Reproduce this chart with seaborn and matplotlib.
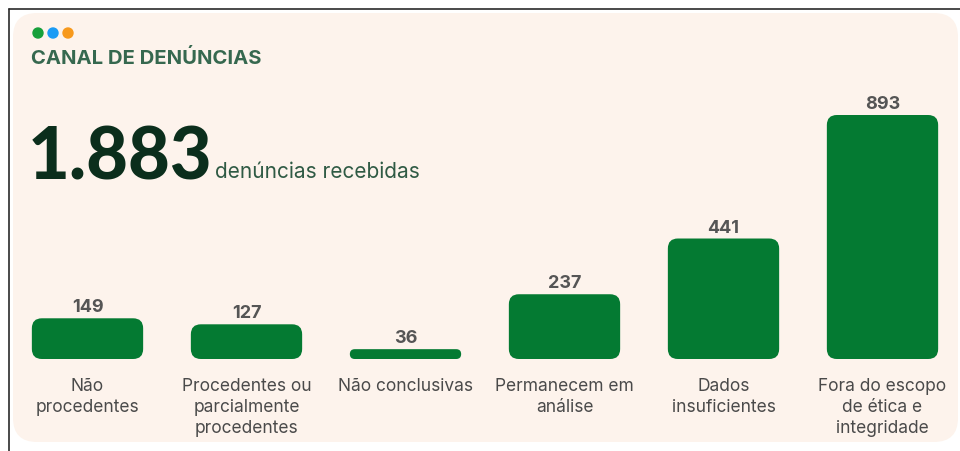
import matplotlib
matplotlib.use("Agg")
import matplotlib.pyplot as plt
from matplotlib.patches import FancyBboxPatch, Circle
import seaborn as sns

# data
categories = [
    "Não\nprocedentes",
    "Procedentes ou\nparcialmente\nprocedentes",
    "Não conclusivas",
    "Permanecem em\nanálise",
    "Dados\ninsuficientes",
    "Fora do escopo\nde ética e\nintegridade",
]
values = [149, 127, 36, 237, 441, 893]
total_label = "1.883"
title = "CANAL DE DENÚNCIAS"
subtitle = "denúncias recebidas"

sns.set_theme(style="white")
plt.rcParams['font.family'] = ['Inter', 'DejaVu Sans']

W, H = 960, 452
fig = plt.figure(figsize=(W / 100, H / 100), dpi=100)
fig.patch.set_facecolor("white")

# background layer in pixel units
bg = fig.add_axes([0, 0, 1, 1])
bg.set_xlim(0, W)
bg.set_ylim(H, 0)
bg.axis("off")

bg.plot([9, W], [10, 10], color="#2b2b2b", lw=1.2)
bg.plot([9, 9], [10, H], color="#2b2b2b", lw=1.2)
bg.add_patch(FancyBboxPatch((13, 14), 945, 429, boxstyle="round,pad=0,rounding_size=24",
                            fc="#fdf3ec", ec="none"))
for cx, col in zip([38, 53, 68], ["#17a03b", "#1a9bf5", "#f7991c"]):
    bg.add_patch(Circle((cx, 34), 5, color=col))

bg.text(31, 58, title, fontsize=14.6, fontweight="bold", color="#36684f", va="center")
bg.text(28, 180, total_label, fontsize=52, fontweight=900, color="#0b2e1c",
        va="baseline", family=["Lato", "DejaVu Sans"])
bg.text(215, 178, subtitle, fontsize=15, color="#2f5a44", va="baseline")

# bar chart layer
ax = fig.add_axes([0, 0, 1, 1])
ax.patch.set_alpha(0)
sns.barplot(x=list(range(len(values))), y=values, color="#047a32", saturation=1,
            width=0.7, ax=ax)

step = 159.0        # px between bar centres
first = 87.5        # px of first centre
base = 360.0        # px (from top) of bar baseline
py = 244.0 / 893    # px per unit
ax.set_xlim(-first / step, (W - first) / step)
ax.set_ylim(-(H - base) / py, base / py)
ax.axis("off")

aspect = step / py
for p in list(ax.patches):
    x, y, w, h = p.get_x(), p.get_y(), p.get_width(), p.get_height()
    r = min(10 / step, h * py / 2 / step)
    ax.add_patch(FancyBboxPatch((x, y), w, h, boxstyle=f"round,pad=0,rounding_size={r}",
                                mutation_aspect=aspect, fc=p.get_facecolor(), ec="none"))
    p.remove()

for i, (cat, v) in enumerate(zip(categories, values)):
    ax.annotate(f"{v}", (i, v), xytext=(0, 5), textcoords="offset points",
                ha="center", va="baseline", fontsize=13, fontweight="bold", color="#555555")
    ax.annotate(cat, (i, 0), xytext=(0, -13), textcoords="offset points",
                ha="center", va="top", multialignment="center", fontsize=12.5,
                color="#4a4a4a", linespacing=1.3)

fig.savefig("out.png", dpi=100)
